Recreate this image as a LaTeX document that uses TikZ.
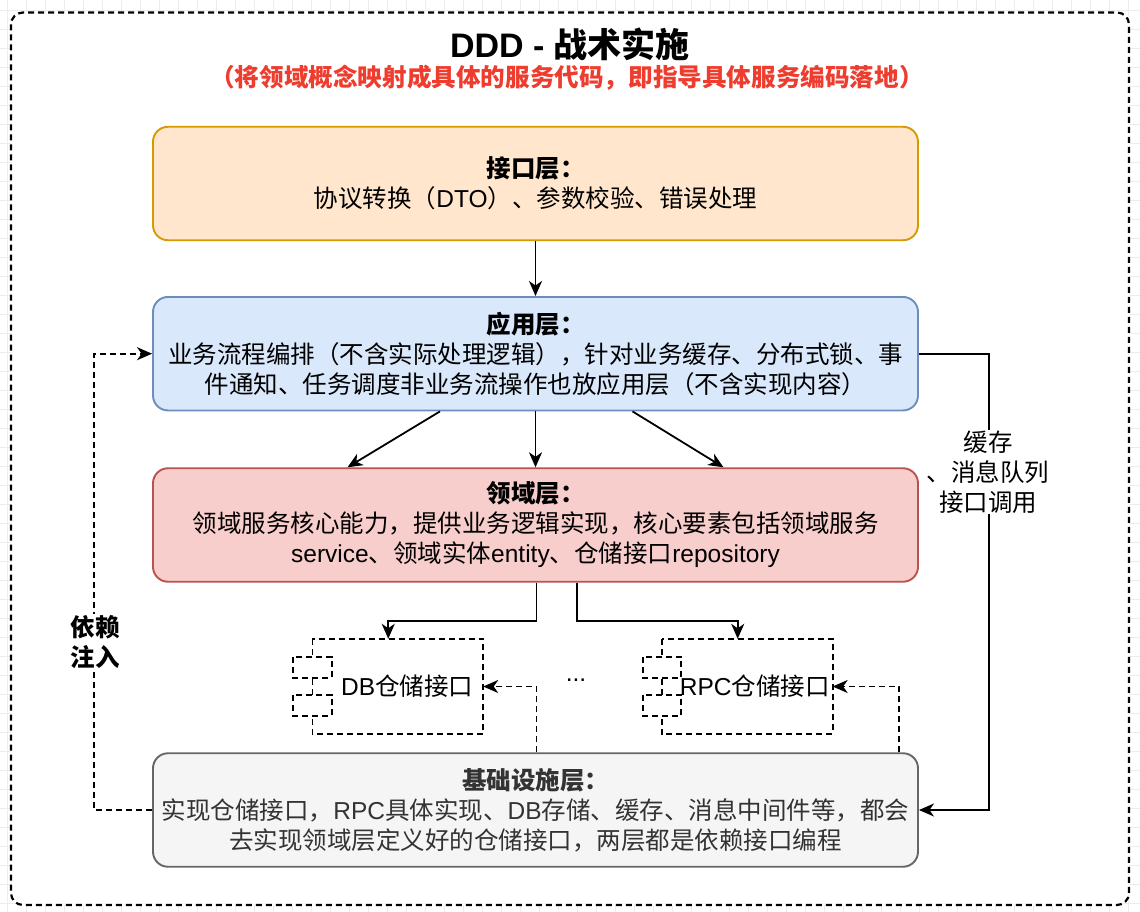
\documentclass[tikz,border=0pt]{standalone}
\usepackage{fontspec}
\setmainfont{Noto Sans CJK SC}
\newfontfamily\lat{Liberation Sans}
\usetikzlibrary{arrows.meta}
\definecolor{ifcfill}{HTML}{FFE6CC}\definecolor{ifcline}{HTML}{D79B00}
\definecolor{appfill}{HTML}{DAE8FC}\definecolor{appline}{HTML}{6C8EBF}
\definecolor{domfill}{HTML}{F8CECC}\definecolor{domline}{HTML}{B85450}
\definecolor{inffill}{HTML}{F5F5F5}\definecolor{infline}{HTML}{666666}
\definecolor{inftext}{HTML}{333333}
\definecolor{subred}{HTML}{EE3D2F}
\definecolor{gridc}{HTML}{EDEDED}
\tikzset{
  layer/.style={draw, rounded corners=15, minimum width=765, minimum height=113.5,
    line width=1.9pt, align=center, inner sep=0pt, font=\fontsize{24.5}{30}\selectfont},
  comp/.style={minimum width=189.5, minimum height=95, inner sep=0pt},
  dsh/.style={draw, line width=1.8pt, dash pattern=on 6pt off 4pt},
  arr/.style={draw, line width=1.8pt, -{Stealth[length=15pt,width=13pt,inset=4.5pt]}},
  darr/.style={arr, dash pattern=on 6pt off 4pt},
  txt/.style={font=\fontsize{24.5}{30}\selectfont, align=center, inner sep=1pt},
}
\begin{document}
\begin{tikzpicture}[x=1pt,y=-1pt]
\useasboundingbox (0,0) rectangle (1140,912);
% background grid
\foreach \i in {0,...,60} \draw[gridc, line width=0.8pt] (7.7+19*\i,0) -- ++(0,912);
\foreach \j in {0,...,48} \draw[gridc, line width=0.8pt] (0,10+19*\j) -- ++(1140,0);
% container
\draw[fill=white, line width=2.2pt, dash pattern=on 6pt off 4pt, rounded corners=12] (11,12.5) rectangle (1129,905);
% titles
\node[inner sep=0pt, font=\fontsize{34}{40}\selectfont\bfseries] (title) at (570,44) {{\lat DDD - }战术实施};
\node[inner sep=0pt, text=subred, font=\fontsize{24.6}{30}\selectfont\bfseries] (sub) at (567,78) {（将领域概念映射成具体的服务代码，即指导具体服务编码落地）};
% layers
\node[layer, fill=ifcfill, draw=ifcline] (ifc) at (535.5,183.5)
  {{\bfseries 接口层：}\\协议转换（{\lat DTO}）、参数校验、错误处理};
\node[layer, fill=appfill, draw=appline] (app) at (535.5,353.7)
  {{\bfseries 应用层：}\\业务流程编排（不含实际处理逻辑），针对业务缓存、分布式锁、事\\件通知、任务调度非业务流操作也放应用层（不含实现内容）};
\node[layer, fill=domfill, draw=domline] (dom) at (535.5,525)
  {{\bfseries 领域层：}\\领域服务核心能力，提供业务逻辑实现，核心要素包括领域服务\\{\lat service}、领域实体{\lat entity}、仓储接口{\lat repository}};
\node[layer, fill=inffill, draw=infline, text=inftext] (inf) at (535.5,810)
  {{\bfseries 基础设施层：}\\实现仓储接口，{\lat RPC}具体实现、{\lat DB}存储、缓存、消息中间件等，都会\\去实现领域层定义好的仓储接口，两层都是依赖接口编程};
% components
\node[comp] (db) at (388.25,686.5) {};
\draw[dsh, fill=white] ([xshift=19.1pt]db.north west) rectangle (db.south east);
\draw[dsh, fill=white] (db.north west) ++(0,18) rectangle ++(38.5,21);
\draw[dsh, fill=white] (db.north west) ++(0,56) rectangle ++(38.5,21);
\node[txt] (dbt) at ([xshift=19pt]db.center) {{\lat DB}仓储接口};
\node[comp] (rpc) at (737.7,686.5) {};
\draw[dsh, fill=white] ([xshift=19.1pt]rpc.north west) rectangle (rpc.south east);
\draw[dsh, fill=white] (rpc.north west) ++(0,18) rectangle ++(38.5,21);
\draw[dsh, fill=white] (rpc.north west) ++(0,56) rectangle ++(38.5,21);
\node[txt] (rpct) at ([xshift=17pt]rpc.center) {{\lat RPC}仓储接口};
\node[txt] (dots) at (576,680) {{\lat ...}};
% connectors
\draw[arr] (ifc.south) -- (app.north);
\draw[arr] ([xshift=-95.5pt]app.south) -- ([xshift=-188pt]dom.north);
\draw[arr] (app.south) -- (dom.north);
\draw[arr] ([xshift=97pt]app.south) -- ([xshift=188pt]dom.north);
\draw[arr] ([xshift=1pt]dom.south) -- ++(0,38) -| (db.north);
\draw[arr] ([xshift=41.5pt]dom.south) -- ++(0,38) -| (rpc.north);
\draw[darr] ([xshift=1pt]inf.north) |- (db.east);
\draw[darr] ([xshift=363.5pt]inf.north) |- (rpc.east);
\draw[darr] (inf.west) -- ++(-58,0) |- (app.west);
\draw[arr] (app.east) -- ++(70,0) |- (inf.east);
% labels
\node[txt, fill=white, font=\fontsize{24.5}{30}\selectfont\bfseries] (dep) at (95,642) {依赖\\注入};
\node[txt, fill=white] (cache) at (988,472) {缓存\\、消息队列\\接口调用};
\end{tikzpicture}
\end{document}
